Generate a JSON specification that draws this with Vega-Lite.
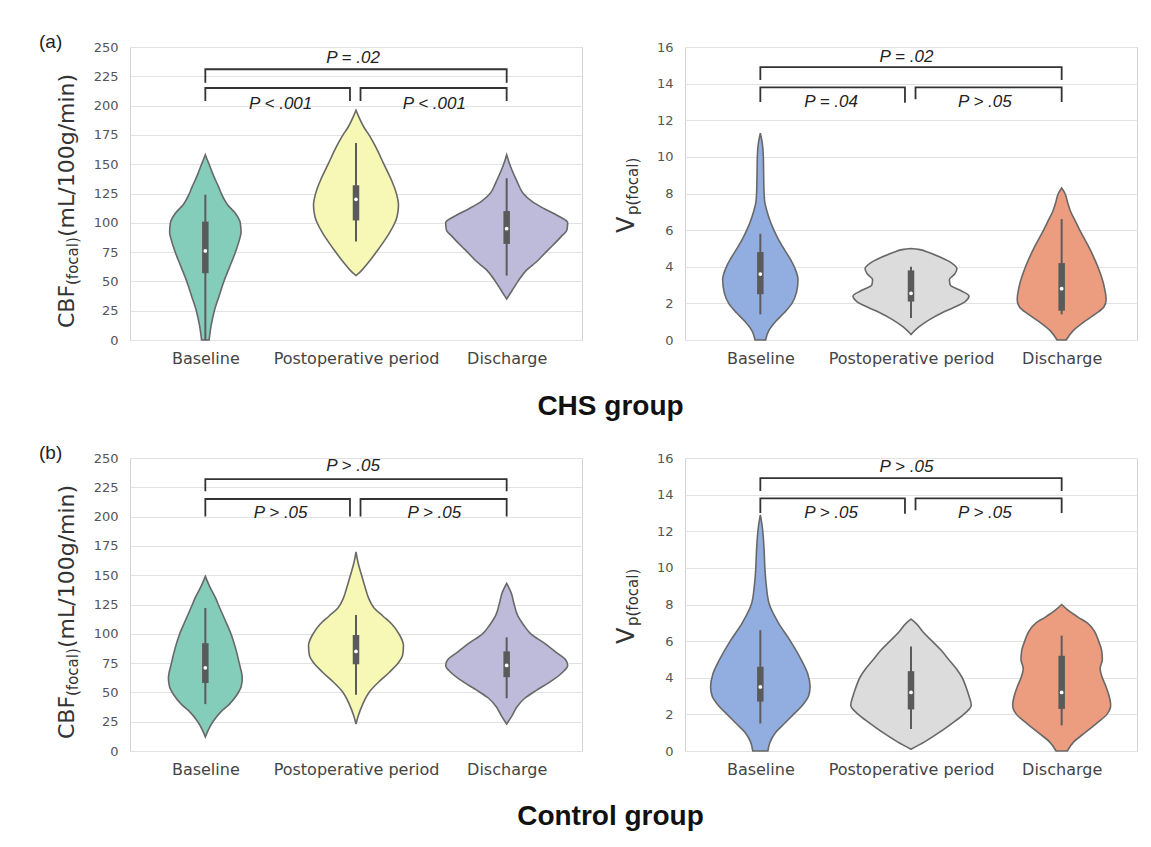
{
"$schema": "https://vega.github.io/schema/vega-lite/v6.json",
"background": "white",
"padding": {"left": 38, "top": 32, "right": 10, "bottom": 10},
"bounds": "flush",
"columns": 2,
"spacing": {"row": 118, "column": 103},
"resolve": {"scale": {"x": "independent", "y": "independent", "color": "independent"}},
"datasets": {
"violin": [
{"p":"A","c":0,"y":158,"w":0},{"p":"A","c":0,"y":154,"w":0.012},{"p":"A","c":0,"y":150,"w":0.025},{"p":"A","c":0,"y":140,"w":0.055},{"p":"A","c":0,"y":130,"w":0.09},{"p":"A","c":0,"y":125,"w":0.106},{"p":"A","c":0,"y":115,"w":0.15},{"p":"A","c":0,"y":108,"w":0.2},{"p":"A","c":0,"y":100,"w":0.232},{"p":"A","c":0,"y":92,"w":0.237},{"p":"A","c":0,"y":85,"w":0.225},{"p":"A","c":0,"y":75,"w":0.2},{"p":"A","c":0,"y":62,"w":0.16},{"p":"A","c":0,"y":50,"w":0.123},{"p":"A","c":0,"y":37,"w":0.09},{"p":"A","c":0,"y":25,"w":0.06},{"p":"A","c":0,"y":12,"w":0.038},{"p":"A","c":0,"y":0,"w":0.025},
{"p":"A","c":1,"y":196,"w":0},{"p":"A","c":1,"y":190,"w":0.02},{"p":"A","c":1,"y":180,"w":0.06},{"p":"A","c":1,"y":175,"w":0.086},{"p":"A","c":1,"y":165,"w":0.13},{"p":"A","c":1,"y":150,"w":0.185},{"p":"A","c":1,"y":138,"w":0.23},{"p":"A","c":1,"y":125,"w":0.268},{"p":"A","c":1,"y":115,"w":0.282},{"p":"A","c":1,"y":105,"w":0.272},{"p":"A","c":1,"y":100,"w":0.258},{"p":"A","c":1,"y":92,"w":0.225},{"p":"A","c":1,"y":85,"w":0.19},{"p":"A","c":1,"y":75,"w":0.135},{"p":"A","c":1,"y":65,"w":0.075},{"p":"A","c":1,"y":59,"w":0.035},{"p":"A","c":1,"y":55,"w":0},
{"p":"A","c":2,"y":158,"w":0},{"p":"A","c":2,"y":153,"w":0.012},{"p":"A","c":2,"y":145,"w":0.035},{"p":"A","c":2,"y":135,"w":0.07},{"p":"A","c":2,"y":125,"w":0.11},{"p":"A","c":2,"y":118,"w":0.17},{"p":"A","c":2,"y":112,"w":0.25},{"p":"A","c":2,"y":106,"w":0.34},{"p":"A","c":2,"y":100,"w":0.405},{"p":"A","c":2,"y":94,"w":0.4},{"p":"A","c":2,"y":88,"w":0.36},{"p":"A","c":2,"y":80,"w":0.3},{"p":"A","c":2,"y":75,"w":0.26},{"p":"A","c":2,"y":67,"w":0.2},{"p":"A","c":2,"y":60,"w":0.135},{"p":"A","c":2,"y":50,"w":0.075},{"p":"A","c":2,"y":42,"w":0.035},{"p":"A","c":2,"y":35,"w":0},
{"p":"B","c":0,"y":11.3,"w":0},{"p":"B","c":0,"y":10.8,"w":0.012},{"p":"B","c":0,"y":10,"w":0.02},{"p":"B","c":0,"y":9,"w":0.022},{"p":"B","c":0,"y":8,"w":0.025},{"p":"B","c":0,"y":7.5,"w":0.03},{"p":"B","c":0,"y":7,"w":0.045},{"p":"B","c":0,"y":6.5,"w":0.065},{"p":"B","c":0,"y":6,"w":0.09},{"p":"B","c":0,"y":5.5,"w":0.12},{"p":"B","c":0,"y":5,"w":0.155},{"p":"B","c":0,"y":4.4,"w":0.2},{"p":"B","c":0,"y":4,"w":0.225},{"p":"B","c":0,"y":3.3,"w":0.25},{"p":"B","c":0,"y":2.6,"w":0.24},{"p":"B","c":0,"y":2,"w":0.21},{"p":"B","c":0,"y":1.5,"w":0.16},{"p":"B","c":0,"y":1,"w":0.1},{"p":"B","c":0,"y":0.5,"w":0.055},{"p":"B","c":0,"y":0,"w":0.035},
{"p":"B","c":1,"y":5,"w":0},{"p":"B","c":1,"y":4.95,"w":0.05},{"p":"B","c":1,"y":4.8,"w":0.11},{"p":"B","c":1,"y":4.5,"w":0.2},{"p":"B","c":1,"y":4.2,"w":0.27},{"p":"B","c":1,"y":3.9,"w":0.305},{"p":"B","c":1,"y":3.6,"w":0.29},{"p":"B","c":1,"y":3.3,"w":0.255},{"p":"B","c":1,"y":3,"w":0.26},{"p":"B","c":1,"y":2.7,"w":0.33},{"p":"B","c":1,"y":2.4,"w":0.385},{"p":"B","c":1,"y":2.1,"w":0.36},{"p":"B","c":1,"y":1.8,"w":0.29},{"p":"B","c":1,"y":1.5,"w":0.21},{"p":"B","c":1,"y":1.1,"w":0.12},{"p":"B","c":1,"y":0.7,"w":0.05},{"p":"B","c":1,"y":0.3,"w":0},
{"p":"B","c":2,"y":8.3,"w":0},{"p":"B","c":2,"y":8,"w":0.022},{"p":"B","c":2,"y":7.5,"w":0.04},{"p":"B","c":2,"y":7,"w":0.06},{"p":"B","c":2,"y":6.5,"w":0.09},{"p":"B","c":2,"y":6,"w":0.12},{"p":"B","c":2,"y":5,"w":0.185},{"p":"B","c":2,"y":4,"w":0.24},{"p":"B","c":2,"y":3,"w":0.28},{"p":"B","c":2,"y":2.2,"w":0.295},{"p":"B","c":2,"y":1.8,"w":0.28},{"p":"B","c":2,"y":1.4,"w":0.22},{"p":"B","c":2,"y":1,"w":0.15},{"p":"B","c":2,"y":0.5,"w":0.075},{"p":"B","c":2,"y":0,"w":0.03},
{"p":"C","c":0,"y":149,"w":0},{"p":"C","c":0,"y":140,"w":0.03},{"p":"C","c":0,"y":130,"w":0.07},{"p":"C","c":0,"y":125,"w":0.086},{"p":"C","c":0,"y":112,"w":0.13},{"p":"C","c":0,"y":100,"w":0.17},{"p":"C","c":0,"y":88,"w":0.2},{"p":"C","c":0,"y":75,"w":0.225},{"p":"C","c":0,"y":62,"w":0.245},{"p":"C","c":0,"y":55,"w":0.238},{"p":"C","c":0,"y":48,"w":0.21},{"p":"C","c":0,"y":40,"w":0.16},{"p":"C","c":0,"y":33,"w":0.1},{"p":"C","c":0,"y":25,"w":0.05},{"p":"C","c":0,"y":18,"w":0.02},{"p":"C","c":0,"y":12,"w":0},
{"p":"C","c":1,"y":170,"w":0},{"p":"C","c":1,"y":160,"w":0.015},{"p":"C","c":1,"y":150,"w":0.037},{"p":"C","c":1,"y":140,"w":0.06},{"p":"C","c":1,"y":130,"w":0.085},{"p":"C","c":1,"y":122,"w":0.12},{"p":"C","c":1,"y":115,"w":0.18},{"p":"C","c":1,"y":108,"w":0.24},{"p":"C","c":1,"y":100,"w":0.285},{"p":"C","c":1,"y":90,"w":0.315},{"p":"C","c":1,"y":82,"w":0.31},{"p":"C","c":1,"y":75,"w":0.28},{"p":"C","c":1,"y":67,"w":0.22},{"p":"C","c":1,"y":60,"w":0.16},{"p":"C","c":1,"y":50,"w":0.086},{"p":"C","c":1,"y":40,"w":0.045},{"p":"C","c":1,"y":30,"w":0.015},{"p":"C","c":1,"y":23,"w":0},
{"p":"C","c":2,"y":143,"w":0},{"p":"C","c":2,"y":135,"w":0.03},{"p":"C","c":2,"y":125,"w":0.05},{"p":"C","c":2,"y":115,"w":0.075},{"p":"C","c":2,"y":108,"w":0.11},{"p":"C","c":2,"y":100,"w":0.16},{"p":"C","c":2,"y":92,"w":0.25},{"p":"C","c":2,"y":85,"w":0.32},{"p":"C","c":2,"y":78,"w":0.39},{"p":"C","c":2,"y":73,"w":0.405},{"p":"C","c":2,"y":67,"w":0.37},{"p":"C","c":2,"y":60,"w":0.3},{"p":"C","c":2,"y":52,"w":0.2},{"p":"C","c":2,"y":45,"w":0.12},{"p":"C","c":2,"y":38,"w":0.07},{"p":"C","c":2,"y":30,"w":0.035},{"p":"C","c":2,"y":23,"w":0},
{"p":"D","c":0,"y":12.9,"w":0},{"p":"D","c":0,"y":12.3,"w":0.012},{"p":"D","c":0,"y":11,"w":0.025},{"p":"D","c":0,"y":10,"w":0.03},{"p":"D","c":0,"y":9,"w":0.04},{"p":"D","c":0,"y":8,"w":0.06},{"p":"D","c":0,"y":7,"w":0.12},{"p":"D","c":0,"y":6,"w":0.2},{"p":"D","c":0,"y":5,"w":0.27},{"p":"D","c":0,"y":4.2,"w":0.315},{"p":"D","c":0,"y":3.5,"w":0.33},{"p":"D","c":0,"y":3,"w":0.32},{"p":"D","c":0,"y":2.5,"w":0.28},{"p":"D","c":0,"y":2,"w":0.22},{"p":"D","c":0,"y":1.5,"w":0.16},{"p":"D","c":0,"y":1,"w":0.1},{"p":"D","c":0,"y":0.5,"w":0.065},{"p":"D","c":0,"y":0,"w":0.05},
{"p":"D","c":1,"y":7.2,"w":0},{"p":"D","c":1,"y":7,"w":0.03},{"p":"D","c":1,"y":6.5,"w":0.08},{"p":"D","c":1,"y":6,"w":0.14},{"p":"D","c":1,"y":5.5,"w":0.2},{"p":"D","c":1,"y":5,"w":0.25},{"p":"D","c":1,"y":4.5,"w":0.3},{"p":"D","c":1,"y":4,"w":0.34},{"p":"D","c":1,"y":3.5,"w":0.365},{"p":"D","c":1,"y":3,"w":0.385},{"p":"D","c":1,"y":2.5,"w":0.4},{"p":"D","c":1,"y":2,"w":0.35},{"p":"D","c":1,"y":1.5,"w":0.27},{"p":"D","c":1,"y":1,"w":0.185},{"p":"D","c":1,"y":0.5,"w":0.09},{"p":"D","c":1,"y":0.1,"w":0},
{"p":"D","c":2,"y":8,"w":0},{"p":"D","c":2,"y":7.7,"w":0.04},{"p":"D","c":2,"y":7.3,"w":0.11},{"p":"D","c":2,"y":7,"w":0.17},{"p":"D","c":2,"y":6.5,"w":0.22},{"p":"D","c":2,"y":6,"w":0.245},{"p":"D","c":2,"y":5.5,"w":0.265},{"p":"D","c":2,"y":5,"w":0.27},{"p":"D","c":2,"y":4.5,"w":0.255},{"p":"D","c":2,"y":4,"w":0.27},{"p":"D","c":2,"y":3.5,"w":0.295},{"p":"D","c":2,"y":3,"w":0.315},{"p":"D","c":2,"y":2.5,"w":0.325},{"p":"D","c":2,"y":2,"w":0.3},{"p":"D","c":2,"y":1.5,"w":0.23},{"p":"D","c":2,"y":1,"w":0.155},{"p":"D","c":2,"y":0.5,"w":0.08},{"p":"D","c":2,"y":0,"w":0.037}
],
"box": [
{"p":"A","c":0,"wlo":0,"q1":57,"med":76,"q3":101,"whi":124},
{"p":"A","c":1,"wlo":84,"q1":102,"med":120,"q3":132,"whi":168},
{"p":"A","c":2,"wlo":55,"q1":82,"med":95,"q3":110,"whi":138},
{"p":"B","c":0,"wlo":1.4,"q1":2.5,"med":3.6,"q3":4.8,"whi":5.8},
{"p":"B","c":1,"wlo":1.2,"q1":2.1,"med":2.55,"q3":3.8,"whi":4.0},
{"p":"B","c":2,"wlo":1.4,"q1":1.6,"med":2.8,"q3":4.2,"whi":6.6},
{"p":"C","c":0,"wlo":40,"q1":58,"med":71,"q3":92,"whi":122},
{"p":"C","c":1,"wlo":48,"q1":74,"med":85,"q3":99,"whi":116},
{"p":"C","c":2,"wlo":45,"q1":63,"med":73,"q3":85,"whi":97},
{"p":"D","c":0,"wlo":1.5,"q1":2.7,"med":3.5,"q3":4.6,"whi":6.6},
{"p":"D","c":1,"wlo":1.2,"q1":2.27,"med":3.2,"q3":4.36,"whi":5.7},
{"p":"D","c":2,"wlo":1.4,"q1":2.3,"med":3.2,"q3":5.2,"whi":6.3}
],
"brackets": [
{"p":"A","b":"t","k":0,"bx":0,"by":219.5},{"p":"A","b":"t","k":1,"bx":0,"by":231},{"p":"A","b":"t","k":2,"bx":2,"by":231},{"p":"A","b":"t","k":3,"bx":2,"by":219.5},
{"p":"A","b":"l","k":0,"bx":0,"by":204},{"p":"A","b":"l","k":1,"bx":0,"by":215},{"p":"A","b":"l","k":2,"bx":0.96,"by":215},{"p":"A","b":"l","k":3,"bx":0.96,"by":204},
{"p":"A","b":"r","k":0,"bx":1.03,"by":204},{"p":"A","b":"r","k":1,"bx":1.03,"by":215},{"p":"A","b":"r","k":2,"bx":2,"by":215},{"p":"A","b":"r","k":3,"bx":2,"by":204},
{"p":"C","b":"t","k":0,"bx":0,"by":221.6},{"p":"C","b":"t","k":1,"bx":0,"by":232},{"p":"C","b":"t","k":2,"bx":2,"by":232},{"p":"C","b":"t","k":3,"bx":2,"by":221.6},
{"p":"C","b":"l","k":0,"bx":0,"by":200},{"p":"C","b":"l","k":1,"bx":0,"by":215},{"p":"C","b":"l","k":2,"bx":0.96,"by":215},{"p":"C","b":"l","k":3,"bx":0.96,"by":200},
{"p":"C","b":"r","k":0,"bx":1.03,"by":200},{"p":"C","b":"r","k":1,"bx":1.03,"by":215},{"p":"C","b":"r","k":2,"bx":2,"by":215},{"p":"C","b":"r","k":3,"bx":2,"by":200},
{"p":"B","b":"t","k":0,"bx":0,"by":14.2},{"p":"B","b":"t","k":1,"bx":0,"by":14.9},{"p":"B","b":"t","k":2,"bx":2,"by":14.9},{"p":"B","b":"t","k":3,"bx":2,"by":14.2},
{"p":"B","b":"l","k":0,"bx":0,"by":13.0},{"p":"B","b":"l","k":1,"bx":0,"by":13.8},{"p":"B","b":"l","k":2,"bx":0.96,"by":13.8},{"p":"B","b":"l","k":3,"bx":0.96,"by":12.95},
{"p":"B","b":"r","k":0,"bx":1.03,"by":13.15},{"p":"B","b":"r","k":1,"bx":1.03,"by":13.8},{"p":"B","b":"r","k":2,"bx":2,"by":13.8},{"p":"B","b":"r","k":3,"bx":2,"by":13.0},
{"p":"D","b":"t","k":0,"bx":0,"by":14.2},{"p":"D","b":"t","k":1,"bx":0,"by":14.9},{"p":"D","b":"t","k":2,"bx":2,"by":14.9},{"p":"D","b":"t","k":3,"bx":2,"by":14.2},
{"p":"D","b":"l","k":0,"bx":0,"by":13.0},{"p":"D","b":"l","k":1,"bx":0,"by":13.8},{"p":"D","b":"l","k":2,"bx":0.96,"by":13.8},{"p":"D","b":"l","k":3,"bx":0.96,"by":12.95},
{"p":"D","b":"r","k":0,"bx":1.03,"by":13.15},{"p":"D","b":"r","k":1,"bx":1.03,"by":13.8},{"p":"D","b":"r","k":2,"bx":2,"by":13.8},{"p":"D","b":"r","k":3,"bx":2,"by":13.0}
],
"labels": [
{"p":"A","lx":0.98,"ly":241,"t":"P = .02"},{"p":"A","lx":0.5,"ly":201,"t":"P < .001"},{"p":"A","lx":1.52,"ly":201,"t":"P < .001"},
{"p":"B","lx":0.97,"ly":15.45,"t":"P = .02"},{"p":"B","lx":0.47,"ly":13.0,"t":"P = .04"},{"p":"B","lx":1.49,"ly":13.0,"t":"P > .05"},
{"p":"C","lx":0.98,"ly":243,"t":"P > .05"},{"p":"C","lx":0.5,"ly":203,"t":"P > .05"},{"p":"C","lx":1.52,"ly":203,"t":"P > .05"},
{"p":"D","lx":0.97,"ly":15.5,"t":"P > .05"},{"p":"D","lx":0.47,"ly":13.0,"t":"P > .05"},{"p":"D","lx":1.49,"ly":13.0,"t":"P > .05"}
]
},
"concat": [
{
"width": 452, "height": 293,
"title": {"text": "CHS group", "orient": "bottom", "anchor": "end", "align": "center", "frame": "group", "dx": 28.5, "offset": 27, "fontSize": 28, "fontWeight": "bold", "font": "Liberation Sans", "color": "#111111"},
"layer": [
{"data":{"name":"violin"},"transform":[{"filter":"datum.p=='A'"},{"calculate":"datum.c-datum.w","as":"lo"},{"calculate":"datum.c+datum.w","as":"hi"}],
"mark":{"type":"area","orient":"horizontal","interpolate":"monotone","stroke":"#686868","strokeWidth":1.6,"fillOpacity":1},
"encoding":{
"y":{"field":"y","type":"quantitative","scale":{"domain":[0,250],"nice":false,"zero":false},"axis":{"values":[0,25,50,75,100,125,150,175,200,225,250],"tickCount":11},"title":null},
"x":{"field":"lo","type":"quantitative","stack":null,"scale":{"domain":[-0.5,2.5],"nice":false,"zero":false},"axis":{"values":[0,1,2],"labelExpr":"datum.value==0?'Baseline':datum.value==1?'Postoperative period':'Discharge'"},"title":null},
"x2":{"field":"hi"},
"color":{"field":"c","type":"nominal","scale":{"domain":[0,1,2],"range":["#84cdbb","#f7f7b6","#bdbada"]},"legend":null}}},
{"data":{"name":"box"},"transform":[{"filter":"datum.p=='A'"}],"mark":{"type":"rule","stroke":"#5c5c5c","strokeWidth":2},
"encoding":{"x":{"field":"c","type":"quantitative","scale":{"domain":[-0.5,2.5],"nice":false,"zero":false},"axis":{"values":[0,1,2],"labelExpr":"datum.value==0?'Baseline':datum.value==1?'Postoperative period':'Discharge'"},"title":null},"y":{"field":"wlo","type":"quantitative","scale":{"domain":[0,250],"nice":false,"zero":false},"axis":{"values":[0,25,50,75,100,125,150,175,200,225,250],"tickCount":11},"title":null},"y2":{"field":"whi"}}},
{"data":{"name":"box"},"transform":[{"filter":"datum.p=='A'"}],"mark":{"type":"rule","stroke":"#5a5a5a","strokeWidth":6.5},
"encoding":{"x":{"field":"c","type":"quantitative","scale":{"domain":[-0.5,2.5],"nice":false,"zero":false},"axis":{"values":[0,1,2],"labelExpr":"datum.value==0?'Baseline':datum.value==1?'Postoperative period':'Discharge'"},"title":null},"y":{"field":"q1","type":"quantitative","scale":{"domain":[0,250],"nice":false,"zero":false},"axis":{"values":[0,25,50,75,100,125,150,175,200,225,250],"tickCount":11},"title":null},"y2":{"field":"q3"}}},
{"data":{"name":"box"},"transform":[{"filter":"datum.p=='A'"}],"mark":{"type":"circle","color":"#ffffff","size":14,"opacity":1},
"encoding":{"x":{"field":"c","type":"quantitative","scale":{"domain":[-0.5,2.5],"nice":false,"zero":false},"axis":{"values":[0,1,2],"labelExpr":"datum.value==0?'Baseline':datum.value==1?'Postoperative period':'Discharge'"},"title":null},"y":{"field":"med","type":"quantitative","scale":{"domain":[0,250],"nice":false,"zero":false},"axis":{"values":[0,25,50,75,100,125,150,175,200,225,250],"tickCount":11},"title":null}}},
{"data":{"name":"brackets"},"transform":[{"filter":"datum.p=='A'"}],"mark":{"type":"line","stroke":"#333333","strokeWidth":1.8},
"encoding":{"x":{"field":"bx","type":"quantitative","scale":{"domain":[-0.5,2.5],"nice":false,"zero":false},"axis":{"values":[0,1,2],"labelExpr":"datum.value==0?'Baseline':datum.value==1?'Postoperative period':'Discharge'"},"title":null},"y":{"field":"by","type":"quantitative","scale":{"domain":[0,250],"nice":false,"zero":false},"axis":{"values":[0,25,50,75,100,125,150,175,200,225,250],"tickCount":11},"title":null},"detail":{"field":"b"},"order":{"field":"k","type":"quantitative"}}},
{"data":{"name":"labels"},"transform":[{"filter":"datum.p=='A'"}],"mark":{"type":"text","font":"Liberation Sans","fontStyle":"italic","fontSize":17,"color":"#222222","align":"center","baseline":"middle"},
"encoding":{"x":{"field":"lx","type":"quantitative","scale":{"domain":[-0.5,2.5],"nice":false,"zero":false},"axis":{"values":[0,1,2],"labelExpr":"datum.value==0?'Baseline':datum.value==1?'Postoperative period':'Discharge'"},"title":null},"y":{"field":"ly","type":"quantitative","scale":{"domain":[0,250],"nice":false,"zero":false},"axis":{"values":[0,25,50,75,100,125,150,175,200,225,250],"tickCount":11},"title":null},"text":{"field":"t"}}},
{"data":{"values":[{}]},"mark":{"type":"text","text":"CBF","angle":270,"align":"left","baseline":"alphabetic","font":"DejaVu Sans","fontSize":22,"color":"#333333","dx":-134.5,"dy":-56},
"encoding":{"x":{"datum":-0.5,"type":"quantitative","scale":{"domain":[-0.5,2.5],"nice":false,"zero":false},"axis":{"values":[0,1,2],"labelExpr":"datum.value==0?'Baseline':datum.value==1?'Postoperative period':'Discharge'"},"title":null},"y":{"datum":125,"type":"quantitative","scale":{"domain":[0,250],"nice":false,"zero":false},"axis":{"values":[0,25,50,75,100,125,150,175,200,225,250],"tickCount":11},"title":null}}},
{"data":{"values":[{}]},"mark":{"type":"text","text":"(focal)","angle":270,"align":"left","baseline":"alphabetic","font":"DejaVu Sans","fontSize":15,"color":"#333333","dx":-91.5,"dy":-52},
"encoding":{"x":{"datum":-0.5,"type":"quantitative","scale":{"domain":[-0.5,2.5],"nice":false,"zero":false},"axis":{"values":[0,1,2],"labelExpr":"datum.value==0?'Baseline':datum.value==1?'Postoperative period':'Discharge'"},"title":null},"y":{"datum":125,"type":"quantitative","scale":{"domain":[0,250],"nice":false,"zero":false},"axis":{"values":[0,25,50,75,100,125,150,175,200,225,250],"tickCount":11},"title":null}}},
{"data":{"values":[{}]},"mark":{"type":"text","text":"(mL/100g/min)","angle":270,"align":"left","baseline":"alphabetic","font":"DejaVu Sans","fontSize":22,"color":"#333333","dx":-43.5,"dy":-56},
"encoding":{"x":{"datum":-0.5,"type":"quantitative","scale":{"domain":[-0.5,2.5],"nice":false,"zero":false},"axis":{"values":[0,1,2],"labelExpr":"datum.value==0?'Baseline':datum.value==1?'Postoperative period':'Discharge'"},"title":null},"y":{"datum":125,"type":"quantitative","scale":{"domain":[0,250],"nice":false,"zero":false},"axis":{"values":[0,25,50,75,100,125,150,175,200,225,250],"tickCount":11},"title":null}}},
{"data":{"values":[{}]},"mark":{"type":"text","text":"(a)","align":"left","baseline":"middle","font":"Liberation Sans","fontSize":19,"color":"#222222","dx":-91,"dy":-5},
"encoding":{"x":{"datum":-0.5,"type":"quantitative","scale":{"domain":[-0.5,2.5],"nice":false,"zero":false},"axis":{"values":[0,1,2],"labelExpr":"datum.value==0?'Baseline':datum.value==1?'Postoperative period':'Discharge'"},"title":null},"y":{"datum":250,"type":"quantitative","scale":{"domain":[0,250],"nice":false,"zero":false},"axis":{"values":[0,25,50,75,100,125,150,175,200,225,250],"tickCount":11},"title":null}}}
]
},
{
"width": 452, "height": 293,
"layer": [
{"data":{"name":"violin"},"transform":[{"filter":"datum.p=='B'"},{"calculate":"datum.c-datum.w","as":"lo"},{"calculate":"datum.c+datum.w","as":"hi"}],
"mark":{"type":"area","orient":"horizontal","interpolate":"monotone","stroke":"#686868","strokeWidth":1.6,"fillOpacity":1},
"encoding":{
"y":{"field":"y","type":"quantitative","scale":{"domain":[0,16],"nice":false,"zero":false},"axis":{"values":[0,2,4,6,8,10,12,14,16],"tickCount":9},"title":null},
"x":{"field":"lo","type":"quantitative","stack":null,"scale":{"domain":[-0.5,2.5],"nice":false,"zero":false},"axis":{"values":[0,1,2],"labelExpr":"datum.value==0?'Baseline':datum.value==1?'Postoperative period':'Discharge'"},"title":null},
"x2":{"field":"hi"},
"color":{"field":"c","type":"nominal","scale":{"domain":[0,1,2],"range":["#92aee0","#dcdcdc","#ec9d80"]},"legend":null}}},
{"data":{"name":"box"},"transform":[{"filter":"datum.p=='B'"}],"mark":{"type":"rule","stroke":"#5c5c5c","strokeWidth":2},
"encoding":{"x":{"field":"c","type":"quantitative","scale":{"domain":[-0.5,2.5],"nice":false,"zero":false},"axis":{"values":[0,1,2],"labelExpr":"datum.value==0?'Baseline':datum.value==1?'Postoperative period':'Discharge'"},"title":null},"y":{"field":"wlo","type":"quantitative","scale":{"domain":[0,16],"nice":false,"zero":false},"axis":{"values":[0,2,4,6,8,10,12,14,16],"tickCount":9},"title":null},"y2":{"field":"whi"}}},
{"data":{"name":"box"},"transform":[{"filter":"datum.p=='B'"}],"mark":{"type":"rule","stroke":"#5a5a5a","strokeWidth":6.5},
"encoding":{"x":{"field":"c","type":"quantitative","scale":{"domain":[-0.5,2.5],"nice":false,"zero":false},"axis":{"values":[0,1,2],"labelExpr":"datum.value==0?'Baseline':datum.value==1?'Postoperative period':'Discharge'"},"title":null},"y":{"field":"q1","type":"quantitative","scale":{"domain":[0,16],"nice":false,"zero":false},"axis":{"values":[0,2,4,6,8,10,12,14,16],"tickCount":9},"title":null},"y2":{"field":"q3"}}},
{"data":{"name":"box"},"transform":[{"filter":"datum.p=='B'"}],"mark":{"type":"circle","color":"#ffffff","size":14,"opacity":1},
"encoding":{"x":{"field":"c","type":"quantitative","scale":{"domain":[-0.5,2.5],"nice":false,"zero":false},"axis":{"values":[0,1,2],"labelExpr":"datum.value==0?'Baseline':datum.value==1?'Postoperative period':'Discharge'"},"title":null},"y":{"field":"med","type":"quantitative","scale":{"domain":[0,16],"nice":false,"zero":false},"axis":{"values":[0,2,4,6,8,10,12,14,16],"tickCount":9},"title":null}}},
{"data":{"name":"brackets"},"transform":[{"filter":"datum.p=='B'"}],"mark":{"type":"line","stroke":"#333333","strokeWidth":1.8},
"encoding":{"x":{"field":"bx","type":"quantitative","scale":{"domain":[-0.5,2.5],"nice":false,"zero":false},"axis":{"values":[0,1,2],"labelExpr":"datum.value==0?'Baseline':datum.value==1?'Postoperative period':'Discharge'"},"title":null},"y":{"field":"by","type":"quantitative","scale":{"domain":[0,16],"nice":false,"zero":false},"axis":{"values":[0,2,4,6,8,10,12,14,16],"tickCount":9},"title":null},"detail":{"field":"b"},"order":{"field":"k","type":"quantitative"}}},
{"data":{"name":"labels"},"transform":[{"filter":"datum.p=='B'"}],"mark":{"type":"text","font":"Liberation Sans","fontStyle":"italic","fontSize":17,"color":"#222222","align":"center","baseline":"middle"},
"encoding":{"x":{"field":"lx","type":"quantitative","scale":{"domain":[-0.5,2.5],"nice":false,"zero":false},"axis":{"values":[0,1,2],"labelExpr":"datum.value==0?'Baseline':datum.value==1?'Postoperative period':'Discharge'"},"title":null},"y":{"field":"ly","type":"quantitative","scale":{"domain":[0,16],"nice":false,"zero":false},"axis":{"values":[0,2,4,6,8,10,12,14,16],"tickCount":9},"title":null},"text":{"field":"t"}}},
{"data":{"values":[{}]},"mark":{"type":"text","text":"V","angle":270,"align":"left","baseline":"alphabetic","font":"DejaVu Sans","fontSize":24,"color":"#333333","dx":-39.5,"dy":-51},
"encoding":{"x":{"datum":-0.5,"type":"quantitative","scale":{"domain":[-0.5,2.5],"nice":false,"zero":false},"axis":{"values":[0,1,2],"labelExpr":"datum.value==0?'Baseline':datum.value==1?'Postoperative period':'Discharge'"},"title":null},"y":{"datum":8,"type":"quantitative","scale":{"domain":[0,16],"nice":false,"zero":false},"axis":{"values":[0,2,4,6,8,10,12,14,16],"tickCount":9},"title":null}}},
{"data":{"values":[{}]},"mark":{"type":"text","text":"p(focal)","angle":270,"align":"left","baseline":"alphabetic","font":"DejaVu Sans","fontSize":15,"color":"#333333","dx":-21.5,"dy":-47.5},
"encoding":{"x":{"datum":-0.5,"type":"quantitative","scale":{"domain":[-0.5,2.5],"nice":false,"zero":false},"axis":{"values":[0,1,2],"labelExpr":"datum.value==0?'Baseline':datum.value==1?'Postoperative period':'Discharge'"},"title":null},"y":{"datum":8,"type":"quantitative","scale":{"domain":[0,16],"nice":false,"zero":false},"axis":{"values":[0,2,4,6,8,10,12,14,16],"tickCount":9},"title":null}}}
]
},
{
"width": 452, "height": 293,
"title": {"text": "Control group", "orient": "bottom", "anchor": "end", "align": "center", "frame": "group", "dx": 28.5, "offset": 26, "fontSize": 28, "fontWeight": "bold", "font": "Liberation Sans", "color": "#111111"},
"layer": [
{"data":{"name":"violin"},"transform":[{"filter":"datum.p=='C'"},{"calculate":"datum.c-datum.w","as":"lo"},{"calculate":"datum.c+datum.w","as":"hi"}],
"mark":{"type":"area","orient":"horizontal","interpolate":"monotone","stroke":"#686868","strokeWidth":1.6,"fillOpacity":1},
"encoding":{
"y":{"field":"y","type":"quantitative","scale":{"domain":[0,250],"nice":false,"zero":false},"axis":{"values":[0,25,50,75,100,125,150,175,200,225,250],"tickCount":11},"title":null},
"x":{"field":"lo","type":"quantitative","stack":null,"scale":{"domain":[-0.5,2.5],"nice":false,"zero":false},"axis":{"values":[0,1,2],"labelExpr":"datum.value==0?'Baseline':datum.value==1?'Postoperative period':'Discharge'"},"title":null},
"x2":{"field":"hi"},
"color":{"field":"c","type":"nominal","scale":{"domain":[0,1,2],"range":["#84cdbb","#f7f7b6","#bdbada"]},"legend":null}}},
{"data":{"name":"box"},"transform":[{"filter":"datum.p=='C'"}],"mark":{"type":"rule","stroke":"#5c5c5c","strokeWidth":2},
"encoding":{"x":{"field":"c","type":"quantitative","scale":{"domain":[-0.5,2.5],"nice":false,"zero":false},"axis":{"values":[0,1,2],"labelExpr":"datum.value==0?'Baseline':datum.value==1?'Postoperative period':'Discharge'"},"title":null},"y":{"field":"wlo","type":"quantitative","scale":{"domain":[0,250],"nice":false,"zero":false},"axis":{"values":[0,25,50,75,100,125,150,175,200,225,250],"tickCount":11},"title":null},"y2":{"field":"whi"}}},
{"data":{"name":"box"},"transform":[{"filter":"datum.p=='C'"}],"mark":{"type":"rule","stroke":"#5a5a5a","strokeWidth":6.5},
"encoding":{"x":{"field":"c","type":"quantitative","scale":{"domain":[-0.5,2.5],"nice":false,"zero":false},"axis":{"values":[0,1,2],"labelExpr":"datum.value==0?'Baseline':datum.value==1?'Postoperative period':'Discharge'"},"title":null},"y":{"field":"q1","type":"quantitative","scale":{"domain":[0,250],"nice":false,"zero":false},"axis":{"values":[0,25,50,75,100,125,150,175,200,225,250],"tickCount":11},"title":null},"y2":{"field":"q3"}}},
{"data":{"name":"box"},"transform":[{"filter":"datum.p=='C'"}],"mark":{"type":"circle","color":"#ffffff","size":14,"opacity":1},
"encoding":{"x":{"field":"c","type":"quantitative","scale":{"domain":[-0.5,2.5],"nice":false,"zero":false},"axis":{"values":[0,1,2],"labelExpr":"datum.value==0?'Baseline':datum.value==1?'Postoperative period':'Discharge'"},"title":null},"y":{"field":"med","type":"quantitative","scale":{"domain":[0,250],"nice":false,"zero":false},"axis":{"values":[0,25,50,75,100,125,150,175,200,225,250],"tickCount":11},"title":null}}},
{"data":{"name":"brackets"},"transform":[{"filter":"datum.p=='C'"}],"mark":{"type":"line","stroke":"#333333","strokeWidth":1.8},
"encoding":{"x":{"field":"bx","type":"quantitative","scale":{"domain":[-0.5,2.5],"nice":false,"zero":false},"axis":{"values":[0,1,2],"labelExpr":"datum.value==0?'Baseline':datum.value==1?'Postoperative period':'Discharge'"},"title":null},"y":{"field":"by","type":"quantitative","scale":{"domain":[0,250],"nice":false,"zero":false},"axis":{"values":[0,25,50,75,100,125,150,175,200,225,250],"tickCount":11},"title":null},"detail":{"field":"b"},"order":{"field":"k","type":"quantitative"}}},
{"data":{"name":"labels"},"transform":[{"filter":"datum.p=='C'"}],"mark":{"type":"text","font":"Liberation Sans","fontStyle":"italic","fontSize":17,"color":"#222222","align":"center","baseline":"middle"},
"encoding":{"x":{"field":"lx","type":"quantitative","scale":{"domain":[-0.5,2.5],"nice":false,"zero":false},"axis":{"values":[0,1,2],"labelExpr":"datum.value==0?'Baseline':datum.value==1?'Postoperative period':'Discharge'"},"title":null},"y":{"field":"ly","type":"quantitative","scale":{"domain":[0,250],"nice":false,"zero":false},"axis":{"values":[0,25,50,75,100,125,150,175,200,225,250],"tickCount":11},"title":null},"text":{"field":"t"}}},
{"data":{"values":[{}]},"mark":{"type":"text","text":"CBF","angle":270,"align":"left","baseline":"alphabetic","font":"DejaVu Sans","fontSize":22,"color":"#333333","dx":-134.5,"dy":-56},
"encoding":{"x":{"datum":-0.5,"type":"quantitative","scale":{"domain":[-0.5,2.5],"nice":false,"zero":false},"axis":{"values":[0,1,2],"labelExpr":"datum.value==0?'Baseline':datum.value==1?'Postoperative period':'Discharge'"},"title":null},"y":{"datum":125,"type":"quantitative","scale":{"domain":[0,250],"nice":false,"zero":false},"axis":{"values":[0,25,50,75,100,125,150,175,200,225,250],"tickCount":11},"title":null}}},
{"data":{"values":[{}]},"mark":{"type":"text","text":"(focal)","angle":270,"align":"left","baseline":"alphabetic","font":"DejaVu Sans","fontSize":15,"color":"#333333","dx":-91.5,"dy":-52},
"encoding":{"x":{"datum":-0.5,"type":"quantitative","scale":{"domain":[-0.5,2.5],"nice":false,"zero":false},"axis":{"values":[0,1,2],"labelExpr":"datum.value==0?'Baseline':datum.value==1?'Postoperative period':'Discharge'"},"title":null},"y":{"datum":125,"type":"quantitative","scale":{"domain":[0,250],"nice":false,"zero":false},"axis":{"values":[0,25,50,75,100,125,150,175,200,225,250],"tickCount":11},"title":null}}},
{"data":{"values":[{}]},"mark":{"type":"text","text":"(mL/100g/min)","angle":270,"align":"left","baseline":"alphabetic","font":"DejaVu Sans","fontSize":22,"color":"#333333","dx":-43.5,"dy":-56},
"encoding":{"x":{"datum":-0.5,"type":"quantitative","scale":{"domain":[-0.5,2.5],"nice":false,"zero":false},"axis":{"values":[0,1,2],"labelExpr":"datum.value==0?'Baseline':datum.value==1?'Postoperative period':'Discharge'"},"title":null},"y":{"datum":125,"type":"quantitative","scale":{"domain":[0,250],"nice":false,"zero":false},"axis":{"values":[0,25,50,75,100,125,150,175,200,225,250],"tickCount":11},"title":null}}},
{"data":{"values":[{}]},"mark":{"type":"text","text":"(b)","align":"left","baseline":"middle","font":"Liberation Sans","fontSize":19,"color":"#222222","dx":-91,"dy":-5},
"encoding":{"x":{"datum":-0.5,"type":"quantitative","scale":{"domain":[-0.5,2.5],"nice":false,"zero":false},"axis":{"values":[0,1,2],"labelExpr":"datum.value==0?'Baseline':datum.value==1?'Postoperative period':'Discharge'"},"title":null},"y":{"datum":250,"type":"quantitative","scale":{"domain":[0,250],"nice":false,"zero":false},"axis":{"values":[0,25,50,75,100,125,150,175,200,225,250],"tickCount":11},"title":null}}}
]
},
{
"width": 452, "height": 293,
"layer": [
{"data":{"name":"violin"},"transform":[{"filter":"datum.p=='D'"},{"calculate":"datum.c-datum.w","as":"lo"},{"calculate":"datum.c+datum.w","as":"hi"}],
"mark":{"type":"area","orient":"horizontal","interpolate":"monotone","stroke":"#686868","strokeWidth":1.6,"fillOpacity":1},
"encoding":{
"y":{"field":"y","type":"quantitative","scale":{"domain":[0,16],"nice":false,"zero":false},"axis":{"values":[0,2,4,6,8,10,12,14,16],"tickCount":9},"title":null},
"x":{"field":"lo","type":"quantitative","stack":null,"scale":{"domain":[-0.5,2.5],"nice":false,"zero":false},"axis":{"values":[0,1,2],"labelExpr":"datum.value==0?'Baseline':datum.value==1?'Postoperative period':'Discharge'"},"title":null},
"x2":{"field":"hi"},
"color":{"field":"c","type":"nominal","scale":{"domain":[0,1,2],"range":["#92aee0","#dcdcdc","#ec9d80"]},"legend":null}}},
{"data":{"name":"box"},"transform":[{"filter":"datum.p=='D'"}],"mark":{"type":"rule","stroke":"#5c5c5c","strokeWidth":2},
"encoding":{"x":{"field":"c","type":"quantitative","scale":{"domain":[-0.5,2.5],"nice":false,"zero":false},"axis":{"values":[0,1,2],"labelExpr":"datum.value==0?'Baseline':datum.value==1?'Postoperative period':'Discharge'"},"title":null},"y":{"field":"wlo","type":"quantitative","scale":{"domain":[0,16],"nice":false,"zero":false},"axis":{"values":[0,2,4,6,8,10,12,14,16],"tickCount":9},"title":null},"y2":{"field":"whi"}}},
{"data":{"name":"box"},"transform":[{"filter":"datum.p=='D'"}],"mark":{"type":"rule","stroke":"#5a5a5a","strokeWidth":6.5},
"encoding":{"x":{"field":"c","type":"quantitative","scale":{"domain":[-0.5,2.5],"nice":false,"zero":false},"axis":{"values":[0,1,2],"labelExpr":"datum.value==0?'Baseline':datum.value==1?'Postoperative period':'Discharge'"},"title":null},"y":{"field":"q1","type":"quantitative","scale":{"domain":[0,16],"nice":false,"zero":false},"axis":{"values":[0,2,4,6,8,10,12,14,16],"tickCount":9},"title":null},"y2":{"field":"q3"}}},
{"data":{"name":"box"},"transform":[{"filter":"datum.p=='D'"}],"mark":{"type":"circle","color":"#ffffff","size":14,"opacity":1},
"encoding":{"x":{"field":"c","type":"quantitative","scale":{"domain":[-0.5,2.5],"nice":false,"zero":false},"axis":{"values":[0,1,2],"labelExpr":"datum.value==0?'Baseline':datum.value==1?'Postoperative period':'Discharge'"},"title":null},"y":{"field":"med","type":"quantitative","scale":{"domain":[0,16],"nice":false,"zero":false},"axis":{"values":[0,2,4,6,8,10,12,14,16],"tickCount":9},"title":null}}},
{"data":{"name":"brackets"},"transform":[{"filter":"datum.p=='D'"}],"mark":{"type":"line","stroke":"#333333","strokeWidth":1.8},
"encoding":{"x":{"field":"bx","type":"quantitative","scale":{"domain":[-0.5,2.5],"nice":false,"zero":false},"axis":{"values":[0,1,2],"labelExpr":"datum.value==0?'Baseline':datum.value==1?'Postoperative period':'Discharge'"},"title":null},"y":{"field":"by","type":"quantitative","scale":{"domain":[0,16],"nice":false,"zero":false},"axis":{"values":[0,2,4,6,8,10,12,14,16],"tickCount":9},"title":null},"detail":{"field":"b"},"order":{"field":"k","type":"quantitative"}}},
{"data":{"name":"labels"},"transform":[{"filter":"datum.p=='D'"}],"mark":{"type":"text","font":"Liberation Sans","fontStyle":"italic","fontSize":17,"color":"#222222","align":"center","baseline":"middle"},
"encoding":{"x":{"field":"lx","type":"quantitative","scale":{"domain":[-0.5,2.5],"nice":false,"zero":false},"axis":{"values":[0,1,2],"labelExpr":"datum.value==0?'Baseline':datum.value==1?'Postoperative period':'Discharge'"},"title":null},"y":{"field":"ly","type":"quantitative","scale":{"domain":[0,16],"nice":false,"zero":false},"axis":{"values":[0,2,4,6,8,10,12,14,16],"tickCount":9},"title":null},"text":{"field":"t"}}},
{"data":{"values":[{}]},"mark":{"type":"text","text":"V","angle":270,"align":"left","baseline":"alphabetic","font":"DejaVu Sans","fontSize":24,"color":"#333333","dx":-39.5,"dy":-51},
"encoding":{"x":{"datum":-0.5,"type":"quantitative","scale":{"domain":[-0.5,2.5],"nice":false,"zero":false},"axis":{"values":[0,1,2],"labelExpr":"datum.value==0?'Baseline':datum.value==1?'Postoperative period':'Discharge'"},"title":null},"y":{"datum":8,"type":"quantitative","scale":{"domain":[0,16],"nice":false,"zero":false},"axis":{"values":[0,2,4,6,8,10,12,14,16],"tickCount":9},"title":null}}},
{"data":{"values":[{}]},"mark":{"type":"text","text":"p(focal)","angle":270,"align":"left","baseline":"alphabetic","font":"DejaVu Sans","fontSize":15,"color":"#333333","dx":-21.5,"dy":-47.5},
"encoding":{"x":{"datum":-0.5,"type":"quantitative","scale":{"domain":[-0.5,2.5],"nice":false,"zero":false},"axis":{"values":[0,1,2],"labelExpr":"datum.value==0?'Baseline':datum.value==1?'Postoperative period':'Discharge'"},"title":null},"y":{"datum":8,"type":"quantitative","scale":{"domain":[0,16],"nice":false,"zero":false},"axis":{"values":[0,2,4,6,8,10,12,14,16],"tickCount":9},"title":null}}}
]
}
],
"config": {
"font": "DejaVu Sans",
"view": {"stroke": "#d4d4d4", "strokeWidth": 1},
"axisY": {"grid": true, "gridColor": "#e2e2e2", "gridWidth": 1, "ticks": false, "domain": false, "labelFont": "DejaVu Sans", "labelFontSize": 13, "labelColor": "#555555", "labelPadding": 12, "labelOverlap": false},
"axisX": {"grid": false, "ticks": false, "domain": false, "labelFont": "DejaVu Sans", "labelFontSize": 16, "labelColor": "#444444", "labelPadding": 10, "labelFlush": false}
}
}
